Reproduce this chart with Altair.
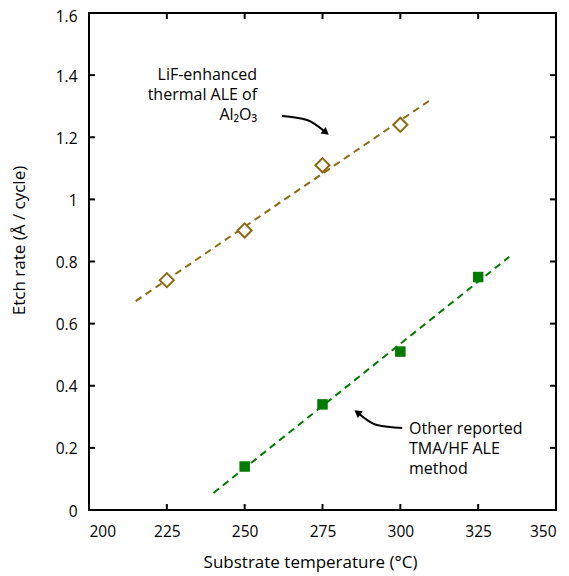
import altair as alt
import pandas as pd

# ---- data ----
lif_temp = [225, 250, 275, 300]
lif_rate = [0.74, 0.90, 1.11, 1.24]
tma_temp = [250, 275, 300, 325]
tma_rate = [0.14, 0.34, 0.51, 0.75]

lif_fit_extent = [215, 310]
tma_fit_extent = [240, 335]

x_ticks = [200, 225, 250, 275, 300, 325, 350]
y_ticks = [0, 0.2, 0.4, 0.6, 0.8, 1.0, 1.2, 1.4, 1.6]

# annotations (data coordinates)
ann1_text = ["LiF-enhanced", "thermal ALE of", "Al₂O₃"]
ann1_pos = [254.0, 1.4005]
ann2_text = ["Other reported", "TMA/HF ALE", "method"]
ann2_pos = [302.8, 0.2608]
arrow1_x = [262.0, 270.05, 276.1]
arrow1_y = [1.2685, 1.2556, 1.2154]
arrow1_angle = 39
arrow2_x = [300.6, 292.5, 286.2]
arrow2_y = [0.264, 0.2737, 0.3142]
arrow2_angle = 216

BROWN = "#8c6a14"
GREEN = "#007a00"
FONT = "Open Sans"
W, H = 467, 497
TICK = 6

lif = pd.DataFrame({"t": lif_temp, "r": lif_rate})
tma = pd.DataFrame({"t": tma_temp, "r": tma_rate})

xscale = alt.Scale(domain=[200, 350], nice=False, zero=False)
yscale = alt.Scale(domain=[0, 1.6], nice=False)

X = alt.X("t:Q", scale=xscale,
          axis=alt.Axis(values=x_ticks, title="Substrate temperature (°C)",
                        titleX=221, titleY=44, titleBaseline="top"))
Y = alt.Y("r:Q", scale=yscale,
          axis=alt.Axis(values=y_ticks, format="~g", title="Etch rate (Å / cycle)",
                        titleX=-61, titleY=227,
                        labelOffset={"condition": {"test": "datum.value >= 1.6", "value": 3}, "value": 1}))

lif_fit = alt.Chart(lif).transform_regression(
    "t", "r", extent=lif_fit_extent
).mark_line(color=BROWN, strokeWidth=2, strokeDash=[7, 5]).encode(x=X, y=Y)

tma_fit = alt.Chart(tma).transform_regression(
    "t", "r", extent=tma_fit_extent
).mark_line(color=GREEN, strokeWidth=2, strokeDash=[7, 5]).encode(x="t:Q", y="r:Q")

lif_pts = alt.Chart(lif).mark_point(
    shape="diamond", size=200, filled=True, fill="white", stroke=BROWN, strokeWidth=2, opacity=1
).encode(x="t:Q", y="r:Q")

tma_pts = alt.Chart(tma).mark_point(
    shape="square", size=110, filled=True, color=GREEN, opacity=1
).encode(x="t:Q", y="r:Q")

# inward tick marks on all four sides
xt = pd.DataFrame({"t": x_ticks})
yt = pd.DataFrame({"r": y_ticks})
bottom_ticks = alt.Chart(xt).mark_rule(color="black", strokeWidth=2).encode(
    x="t:Q", y=alt.value(H), y2=alt.value(H - TICK))
top_ticks = alt.Chart(xt).mark_rule(color="black", strokeWidth=2).encode(
    x="t:Q", y=alt.value(0), y2=alt.value(TICK))
left_ticks = alt.Chart(yt).mark_rule(color="black", strokeWidth=2).encode(
    y="r:Q", x=alt.value(0), x2=alt.value(TICK))
right_ticks = alt.Chart(yt).mark_rule(color="black", strokeWidth=2).encode(
    y="r:Q", x=alt.value(W), x2=alt.value(W - TICK))

ann1 = alt.Chart(pd.DataFrame({"t": [ann1_pos[0]], "r": [ann1_pos[1]], "txt": ["\n".join(ann1_text)]})).mark_text(
    align="right", baseline="middle", lineBreak="\n", fontSize=16, font=FONT, lineHeight=20, color="black"
).encode(x="t:Q", y="r:Q", text="txt:N")
ann2 = alt.Chart(pd.DataFrame({"t": [ann2_pos[0]], "r": [ann2_pos[1]], "txt": ["\n".join(ann2_text)]})).mark_text(
    align="left", baseline="middle", lineBreak="\n", fontSize=16, font=FONT, lineHeight=20, color="black"
).encode(x="t:Q", y="r:Q", text="txt:N")

a1 = pd.DataFrame({"t": arrow1_x, "r": arrow1_y})
a2 = pd.DataFrame({"t": arrow2_x, "r": arrow2_y})
arrow1_line = alt.Chart(a1).mark_line(color="black", strokeWidth=2, interpolate="monotone").encode(x="t:Q", y="r:Q")
arrow2_line = alt.Chart(a2).mark_line(color="black", strokeWidth=2, interpolate="monotone").encode(x="t:Q", y="r:Q")
arrow1_head = alt.Chart(a1.tail(1)).mark_point(
    shape="triangle-right", size=70, filled=True, color="black", opacity=1, angle=arrow1_angle
).encode(x="t:Q", y="r:Q")
arrow2_head = alt.Chart(a2.tail(1)).mark_point(
    shape="triangle-right", size=70, filled=True, color="black", opacity=1, angle=arrow2_angle
).encode(x="t:Q", y="r:Q")

chart = alt.layer(
    lif_fit, tma_fit, lif_pts, tma_pts,
    bottom_ticks, top_ticks, left_ticks, right_ticks,
    arrow1_line, arrow2_line, arrow1_head, arrow2_head,
    ann1, ann2,
).properties(
    width=W, height=H,
    autosize=alt.AutoSizeParams(type="none"),
    padding={"left": 81, "top": 5, "right": 5, "bottom": 64},
).configure_view(
    stroke="black", strokeWidth=2
).configure_axis(
    grid=False, ticks=False, domain=False,
    labelFont=FONT, labelFontSize=15.5, labelColor="black",
    titleFont=FONT, titleFontSize=17, titleColor="black", titleFontWeight="normal",
).configure_axisX(
    labelPadding=14
).configure_axisY(
    labelPadding=12
)

chart.save("out.html", embed_options={"renderer": "svg", "actions": False})
